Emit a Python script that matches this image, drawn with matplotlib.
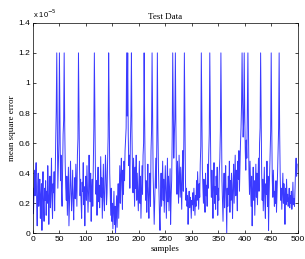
import numpy as np
import matplotlib
matplotlib.use("Agg")
import matplotlib.pyplot as plt
from matplotlib.ticker import FormatStrFormatter

# mean square error per sample, in units of 1e-5
mse = [
    0.30, 0.13, 0.28, 0.42, 0.25, 0.38, 0.47, 0.22, 0.05, 0.31, 0.40, 0.18, 0.29, 0.36, 0.10, 0.24, 0.33, 0.02, 0.27, 0.41, 0.19, 0.08, 0.30, 0.22, 0.35,
    0.12, 0.28, 0.20, 0.45, 0.31, 0.06, 0.24, 0.38, 0.17, 0.29, 0.50, 0.22, 0.10, 0.33, 0.27, 0.41, 0.15, 0.36, 0.62, 0.81, 1.20, 0.70, 0.30, 0.45, 0.60,
    1.20, 0.80, 0.35, 0.52, 0.28, 0.18, 0.40, 0.66, 0.75, 1.20, 0.72, 0.45, 0.30, 0.22, 0.38, 0.12, 0.27, 0.44, 0.05, 0.20, 0.33, 0.48, 0.26, 0.15, 0.30,
    0.42, 0.20, 0.09, 0.28, 0.37, 0.23, 0.46, 0.31, 0.18, 0.52, 0.63, 1.20, 0.80, 0.44, 0.25, 0.36, 0.20, 0.10, 0.34, 0.28, 0.47, 0.19, 0.31, 0.05, 0.26,
    0.38, 0.22, 0.45, 0.30, 0.14, 0.27, 0.52, 0.33, 0.21, 0.40, 0.08, 0.29, 0.36, 0.18, 0.46, 0.70, 1.20, 0.79, 0.41, 0.26, 0.35, 0.12, 0.30, 0.44, 0.21,
    0.32, 0.17, 0.28, 0.51, 0.24, 0.37, 0.10, 0.30, 0.46, 0.22, 0.15, 0.33, 0.52, 0.40, 0.19, 0.27, 0.48, 0.64, 1.20, 0.84, 0.40, 0.25, 0.12, 0.30, 0.08,
    0.20, 0.03, 0.15, 0.28, 0.06, 0.18, 0.00, 0.12, 0.25, 0.04, 0.22, 0.33, 0.10, 0.27, 0.45, 0.20, 0.38, 0.50, 0.30, 0.16, 0.42, 0.26, 0.48, 0.35, 0.55,
    0.62, 0.70, 1.20, 0.78, 1.20, 0.66, 0.45, 0.52, 0.30, 0.60, 0.79, 1.20, 0.68, 0.42, 0.27, 0.50, 0.35, 0.18, 0.44, 0.30, 0.52, 0.22, 0.40, 0.28, 0.15,
    0.33, 0.48, 0.20, 0.38, 0.10, 0.29, 0.45, 0.26, 0.52, 0.60, 1.20, 0.75, 0.40, 0.22, 0.35, 0.14, 0.28, 0.46, 0.24, 0.10, 0.30, 0.40, 0.18, 0.55, 0.68,
    1.20, 0.80, 0.38, 0.24, 0.06, 0.20, 0.35, 0.50, 0.30, 0.62, 1.20, 0.70, 0.44, 0.28, 0.12, 0.02, 0.25, 0.40, 0.18, 0.33, 0.48, 0.22, 0.36, 0.14, 0.30,
    0.45, 0.27, 0.10, 0.32, 0.50, 0.21, 0.38, 0.15, 0.28, 0.43, 0.06, 0.24, 0.35, 0.64, 1.20, 0.85, 0.50, 0.65, 0.76, 1.20, 0.72, 0.40, 0.26, 0.48, 0.33,
    0.20, 0.52, 0.38, 0.24, 0.44, 0.30, 0.16, 0.42, 0.55, 0.28, 0.62, 1.20, 0.74, 0.36, 0.22, 0.30, 0.18, 0.25, 0.06, 0.20, 0.28, 0.17, 0.24, 0.21, 0.10,
    0.22, 0.19, 0.27, 0.15, 0.30, 0.20, 0.12, 0.25, 0.18, 0.35, 0.22, 0.41, 0.28, 0.16, 0.33, 0.24, 0.46, 0.58, 1.20, 0.80, 0.42, 0.30, 0.20, 0.36, 0.27,
    0.14, 0.40, 0.25, 0.32, 0.18, 0.46, 0.30, 0.52, 0.66, 1.20, 0.75, 0.38, 0.24, 0.42, 0.29, 0.10, 0.34, 0.47, 0.20, 0.31, 0.16, 0.38, 0.26, 0.44, 0.12,
    0.30, 0.22, 0.41, 0.50, 0.68, 1.20, 0.74, 0.35, 0.20, 0.08, 0.28, 0.40, 0.17, 0.33, 0.45, 0.24, 0.00, 0.30, 0.18, 0.38, 0.26, 0.48, 0.14, 0.35, 0.22,
    0.40, 0.28, 0.10, 0.33, 0.46, 0.20, 0.37, 0.52, 0.25, 0.42, 0.30, 0.15, 0.48, 0.36, 0.55, 0.28, 0.44, 0.60, 0.70, 0.86, 1.20, 0.87, 0.64, 0.74, 1.20,
    0.80, 0.55, 0.42, 0.62, 0.50, 0.87, 1.20, 0.70, 0.40, 0.26, 0.48, 0.33, 0.18, 0.38, 0.05, 0.28, 0.44, 0.22, 0.35, 0.12, 0.30, 0.46, 0.24, 0.40, 0.19,
    0.34, 0.50, 0.28, 0.60, 0.70, 1.20, 0.76, 0.40, 0.22, 0.36, 0.15, 0.30, 0.44, 0.20, 0.10, 0.33, 0.26, 0.48, 0.18, 0.38, 0.02, 0.25, 0.40, 0.56, 0.68,
    1.20, 0.72, 0.36, 0.24, 0.42, 0.30, 0.18, 0.28, 0.20, 0.35, 0.14, 0.26, 0.40, 0.55, 0.70, 1.20, 0.66, 0.38, 0.22, 0.30, 0.16, 0.28, 0.40, 0.20, 0.33,
    0.24, 0.06, 0.30, 0.19, 0.36, 0.21, 0.26, 0.18, 0.22, 0.30, 0.17, 0.25, 0.20, 0.28, 0.16, 0.21, 0.34, 0.19, 0.23, 0.18, 0.30, 0.42, 0.50, 0.38, 0.46,
]
samples = np.arange(len(mse))

x_ticks = [0, 50, 100, 150, 200, 250, 300, 350, 400, 450, 500]
y_ticks = [0, 0.2, 0.4, 0.6, 0.8, 1, 1.2, 1.4]

SERIF = "Liberation Serif"
SANS = "Liberation Sans"

fig = plt.figure(figsize=(3.05, 2.59), dpi=100)
ax = fig.add_axes([0.108, 0.099, 0.868, 0.813])

ax.plot(samples, mse, color="#3a3aff", lw=0.7)

ax.set_xlim(0, 500)
ax.set_ylim(0, 1.4)
ax.set_xticks(x_ticks)
ax.set_yticks(y_ticks)
ax.yaxis.set_major_formatter(FormatStrFormatter("%g"))
ax.tick_params(direction="in", top=True, right=True, length=2.5, width=0.5,
               labelsize=6, pad=2)
for lbl in ax.get_xticklabels() + ax.get_yticklabels():
    lbl.set_fontfamily(SANS)
for sp in ax.spines.values():
    sp.set_linewidth(0.5)

ax.set_title("Test Data", fontsize=6.5, family=SERIF, pad=3)
ax.set_xlabel("samples", fontsize=6.5, family=SERIF, labelpad=1)
ax.set_ylabel("mean square error", fontsize=6.5, family=SERIF, labelpad=2)
ax.text(0.0, 1.012, r"x 10$^{-5}$", transform=ax.transAxes, fontsize=5.5,
        family=SANS, ha="left", va="bottom")

fig.savefig("out.png", dpi=100)
